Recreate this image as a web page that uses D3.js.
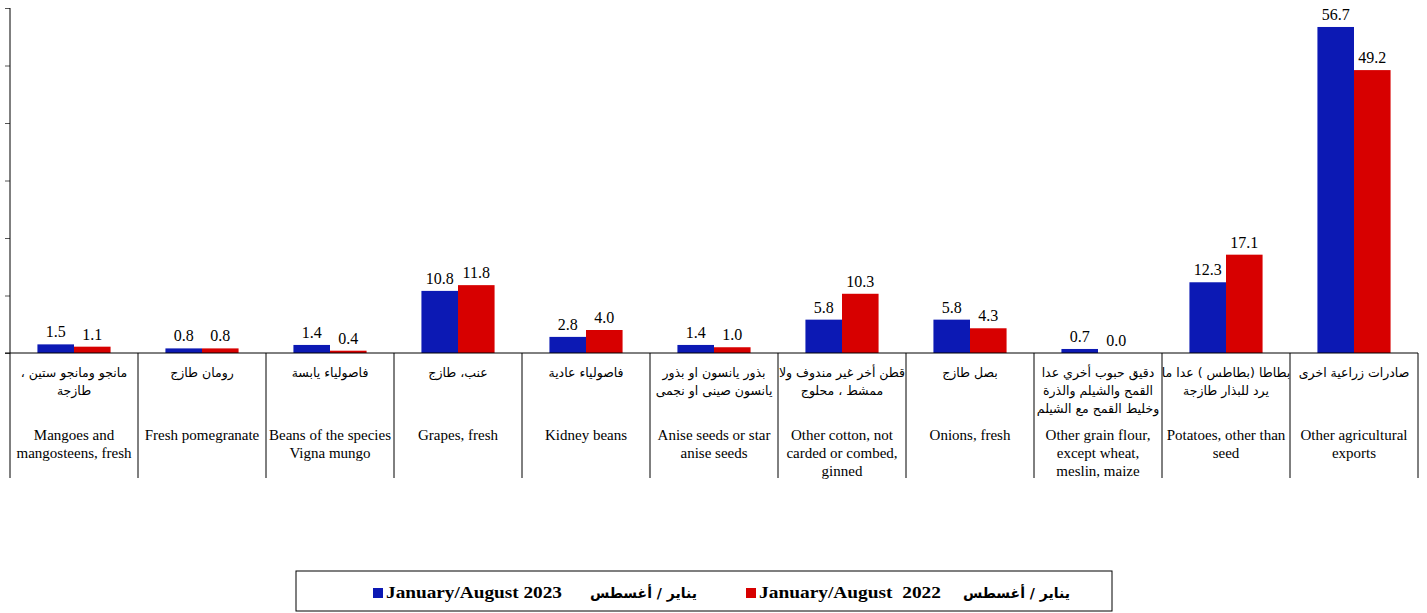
<!DOCTYPE html>
<html>
<head>
<meta charset="utf-8">
<script src="https://cdn.jsdelivr.net/npm/d3@7"></script>
<style>
  body { margin: 0; background: #fff; }
  .val { font-family: "Liberation Serif", serif; font-size: 16px; fill: #000; }
  .en { font-family: "Liberation Serif", serif; font-size: 15px; fill: #000; }
  .ar { font-family: "DejaVu Sans", sans-serif; font-size: 12.5px; fill: #000; }
  .leg { font-family: "Liberation Serif", serif; font-size: 17px; font-weight: bold; fill: #000; }
  .legar { font-family: "DejaVu Sans", sans-serif; font-size: 14px; font-weight: bold; fill: #000; }
</style>
</head>
<body>
<div class="chart"></div>
<script>
// data
const categories = ["mango", "pomegranate", "vigna", "grapes", "kidney", "anise", "cotton", "onions", "flour", "potatoes", "other"];
const labelsAr = [
  ["مانجو ومانجو ستين ،", "طازجة"],
  ["رومان طازج"],
  ["فاصولياء يابسة"],
  ["عنب،  طازج"],
  ["فاصولياء عادية"],
  ["بذور يانسون او بذور", "يانسون صينى او نجمى"],
  ["قطن أخر غير مندوف ولا", "ممشط ، محلوج"],
  ["بصل طازج"],
  ["دقيق حبوب أخري عدا", "القمح والشيلم والذرة", "وخليط القمح مع الشيلم"],
  ["بطاطا (بطاطس ) عدا ما", "يرد للبذار طازجة"],
  ["صادرات زراعية اخرى"]
];
const labelsEn = [
  ["Mangoes and", "mangosteens, fresh"],
  ["Fresh pomegranate"],
  ["Beans of the species", "Vigna mungo"],
  ["Grapes, fresh"],
  ["Kidney beans"],
  ["Anise seeds or star", "anise seeds"],
  ["Other cotton, not", "carded or combed,", "ginned"],
  ["Onions, fresh"],
  ["Other grain flour,", "except wheat,", "meslin, maize"],
  ["Potatoes, other than", "seed"],
  ["Other agricultural", "exports"]
];
const values2023 = [1.5, 0.8, 1.4, 10.8, 2.8, 1.4, 5.8, 5.8, 0.7, 12.3, 56.7];
const values2022 = [1.1, 0.8, 0.4, 11.8, 4.0, 1.0, 10.3, 4.3, 0.0, 17.1, 49.2];
const seriesKeys = ["2023", "2022"];
const yTicks = [0, 10, 20, 30, 40, 50, 60];

const colors = { "2023": "#0c19b4", "2022": "#d70000" };

const width = 1427, height = 613;
const plot = { left: 10, right: 1418, top: 8, base: 353, bottom: 478 };

const svg = d3.select(".chart").append("svg")
    .attr("width", width)
    .attr("height", height);

const x = d3.scaleBand()
    .domain(categories)
    .range([plot.left, plot.right])
    .padding(0);

const xInner = d3.scaleBand()
    .domain(seriesKeys)
    .range([0, x.bandwidth()])
    .paddingInner(0)
    .paddingOuter(0.75);

const y = d3.scaleLinear()
    .domain([0, 60])
    .range([plot.base, plot.top]);

const rows = categories.map((c, i) => ({
    cat: c,
    vals: [{ key: "2023", v: values2023[i] }, { key: "2022", v: values2022[i] }]
}));

// bars
const groups = svg.append("g").selectAll("g")
    .data(rows)
    .join("g")
    .attr("transform", d => `translate(${x(d.cat)},0)`);

groups.selectAll("rect")
    .data(d => d.vals)
    .join("rect")
    .attr("x", d => xInner(d.key))
    .attr("y", d => y(d.v))
    .attr("width", xInner.bandwidth())
    .attr("height", d => y(0) - y(d.v))
    .attr("fill", d => colors[d.key]);

groups.selectAll("text.val")
    .data(d => d.vals)
    .join("text")
    .attr("class", "val")
    .attr("x", d => xInner(d.key) + xInner.bandwidth() / 2)
    .attr("y", d => y(d.v) - 7)
    .attr("text-anchor", "middle")
    .text(d => d.v.toFixed(1));

// y axis
const yAxis = d3.axisLeft(y)
    .tickValues(yTicks)
    .tickFormat("")
    .tickSize(5)
    .tickSizeOuter(0);

const ya = svg.append("g")
    .attr("class", "axis y-axis")
    .attr("transform", `translate(${plot.left},0)`)
    .call(yAxis);
ya.select(".domain").remove();
ya.selectAll("line").attr("stroke", "#555");

svg.append("line")
    .attr("x1", plot.left).attr("x2", plot.left)
    .attr("y1", y(60)).attr("y2", plot.bottom)
    .attr("stroke", "#000");

// baseline
svg.append("line")
    .attr("x1", plot.left - 5).attr("x2", plot.right)
    .attr("y1", y(0)).attr("y2", y(0))
    .attr("stroke", "#000");

// category dividers
svg.append("g").selectAll("line")
    .data(categories.slice(1).concat([null]))
    .join("line")
    .attr("x1", d => d ? x(d) : plot.right)
    .attr("x2", d => d ? x(d) : plot.right)
    .attr("y1", y(0))
    .attr("y2", plot.bottom)
    .attr("stroke", "#000");

// category labels
const lab = svg.append("g").selectAll("g")
    .data(rows)
    .join("g")
    .attr("transform", d => `translate(${x(d.cat) + x.bandwidth() / 2},0)`);

lab.append("text")
    .attr("class", "ar")
    .attr("text-anchor", "middle")
    .attr("direction", "rtl")
    .selectAll("tspan")
    .data((d, i) => labelsAr[i])
    .join("tspan")
    .attr("x", 0)
    .attr("y", (d, j) => 377 + j * 18)
    .text(d => d);

lab.append("text")
    .attr("class", "en")
    .attr("text-anchor", "middle")
    .selectAll("tspan")
    .data((d, i) => labelsEn[i])
    .join("tspan")
    .attr("x", 0)
    .attr("y", (d, j) => 440 + j * 18)
    .text(d => d);

// legend
const legend = svg.append("g");
legend.append("rect")
    .attr("x", 296).attr("y", 571)
    .attr("width", 816).attr("height", 40)
    .attr("fill", "#fff").attr("stroke", "#000");

const legItems = [
    { key: "2023", sq: 373, en: "January/August 2023", enLen: 176, ar: "يناير / أغسطس", arEnd: 697 },
    { key: "2022", sq: 746, en: "January/August  2022", enLen: 182, ar: "يناير / أغسطس", arEnd: 1070 }
];

legItems.forEach(it => {
    legend.append("rect")
        .attr("x", it.sq).attr("y", 588)
        .attr("width", 10).attr("height", 10)
        .attr("fill", colors[it.key]);
    legend.append("text")
        .attr("class", "leg")
        .attr("x", it.sq + 13).attr("y", 598)
        .attr("textLength", it.enLen)
        .attr("lengthAdjust", "spacingAndGlyphs")
        .style("white-space", "pre")
        .text(it.en);
    legend.append("text")
        .attr("class", "legar")
        .attr("x", it.arEnd).attr("y", 598)
        .attr("text-anchor", "end")
        .text(it.ar);
});
</script>
</body>
</html>
